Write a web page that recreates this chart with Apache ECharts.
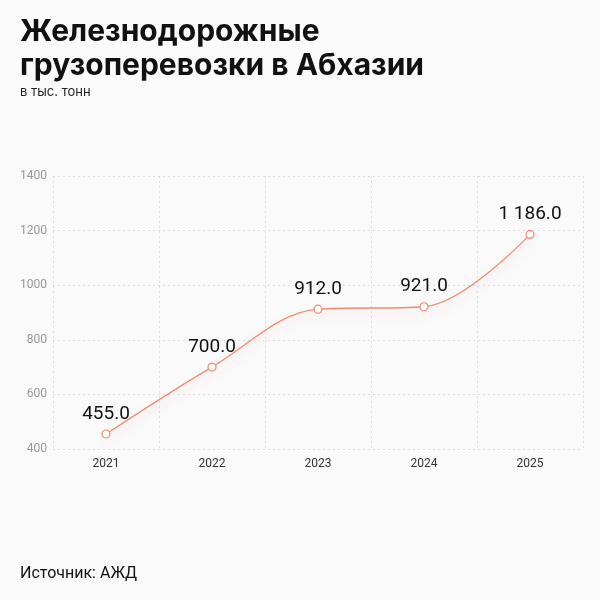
<!DOCTYPE html>
<html>
<head>
<meta charset="utf-8">
<script src="https://cdn.jsdelivr.net/npm/echarts@6/dist/echarts.min.js"></script>
<style>
  html, body { margin: 0; padding: 0; background: #fafafa; }
  #chart { width: 600px; height: 600px; }
</style>
</head>
<body>
<div id="chart"></div>
<script>
let years = ['2021', '2022', '2023', '2024', '2025'];
let freight = [455, 700, 912, 921, 1186];
let yTicks = [400, 600, 800, 1000, 1200, 1400];

function fmtValue(v) {
  let parts = v.toFixed(1).split('.');
  let int = parts[0].replace(/\B(?=(\d{3})+(?!\d))/g, ' ');
  return int + '.' + parts[1];
}

let lineColor = '#f28b74';

let option = {
  backgroundColor: '#fafafa',
  textStyle: { fontFamily: 'Roboto, Inter, sans-serif' },
  title: [
    {
      text: 'Железнодорожные\nгрузоперевозки в Абхазии',
      left: 20,
      top: 15,
      padding: 0,
      textStyle: {
        fontFamily: 'Inter, "Noto Sans", sans-serif',
        fontSize: 30,
        fontWeight: 'bold',
        color: '#111',
        lineHeight: 34
      }
    },
    {
      text: 'в тыс. тонн',
      left: 20,
      top: 86,
      padding: 0,
      textStyle: { fontFamily: 'Inter, sans-serif', fontSize: 13, fontWeight: 'normal', color: '#222' }
    },
    {
      text: 'Источник: АЖД',
      left: 20,
      top: 566,
      padding: 0,
      textStyle: { fontFamily: 'Roboto, sans-serif', fontSize: 16, fontWeight: 'normal', color: '#111' }
    }
  ],
  grid: {
    left: 53,
    right: 17,
    top: 176,
    bottom: 151
  },
  xAxis: {
    type: 'category',
    data: years,
    boundaryGap: true,
    axisLine: { show: false },
    axisTick: { show: false },
    axisLabel: { color: '#333', fontSize: 12, margin: 9 },
    splitLine: {
      show: true,
      lineStyle: { color: '#dedede', type: [2, 3], width: 1 }
    }
  },
  yAxis: {
    type: 'value',
    min: yTicks[0],
    max: yTicks[yTicks.length - 1],
    interval: 200,
    axisLine: { show: false },
    axisTick: { show: false },
    axisLabel: {
      color: '#999',
      fontSize: 12,
      margin: 6,
      formatter: function(v) { return String(v); }
    },
    splitLine: {
      lineStyle: { color: '#dedede', type: [2, 3], width: 1 }
    }
  },
  series: [
    {
      type: 'line',
      data: freight,
      smooth: 0.35,
      symbol: 'circle',
      symbolSize: 8,
      itemStyle: { color: '#fff', borderColor: lineColor, borderWidth: 1.2 },
      lineStyle: {
        color: lineColor,
        width: 1.3,
        shadowColor: 'rgba(242,139,116,0.35)',
        shadowBlur: 10,
        shadowOffsetY: 6
      },
      label: {
        show: true,
        position: 'top',
        distance: 6,
        fontSize: 19,
        color: '#111',
        formatter: function(p) { return fmtValue(p.value); }
      }
    }
  ]
};

let chart = echarts.init(document.getElementById('chart'));
chart.setOption(option);
</script>
</body>
</html>
